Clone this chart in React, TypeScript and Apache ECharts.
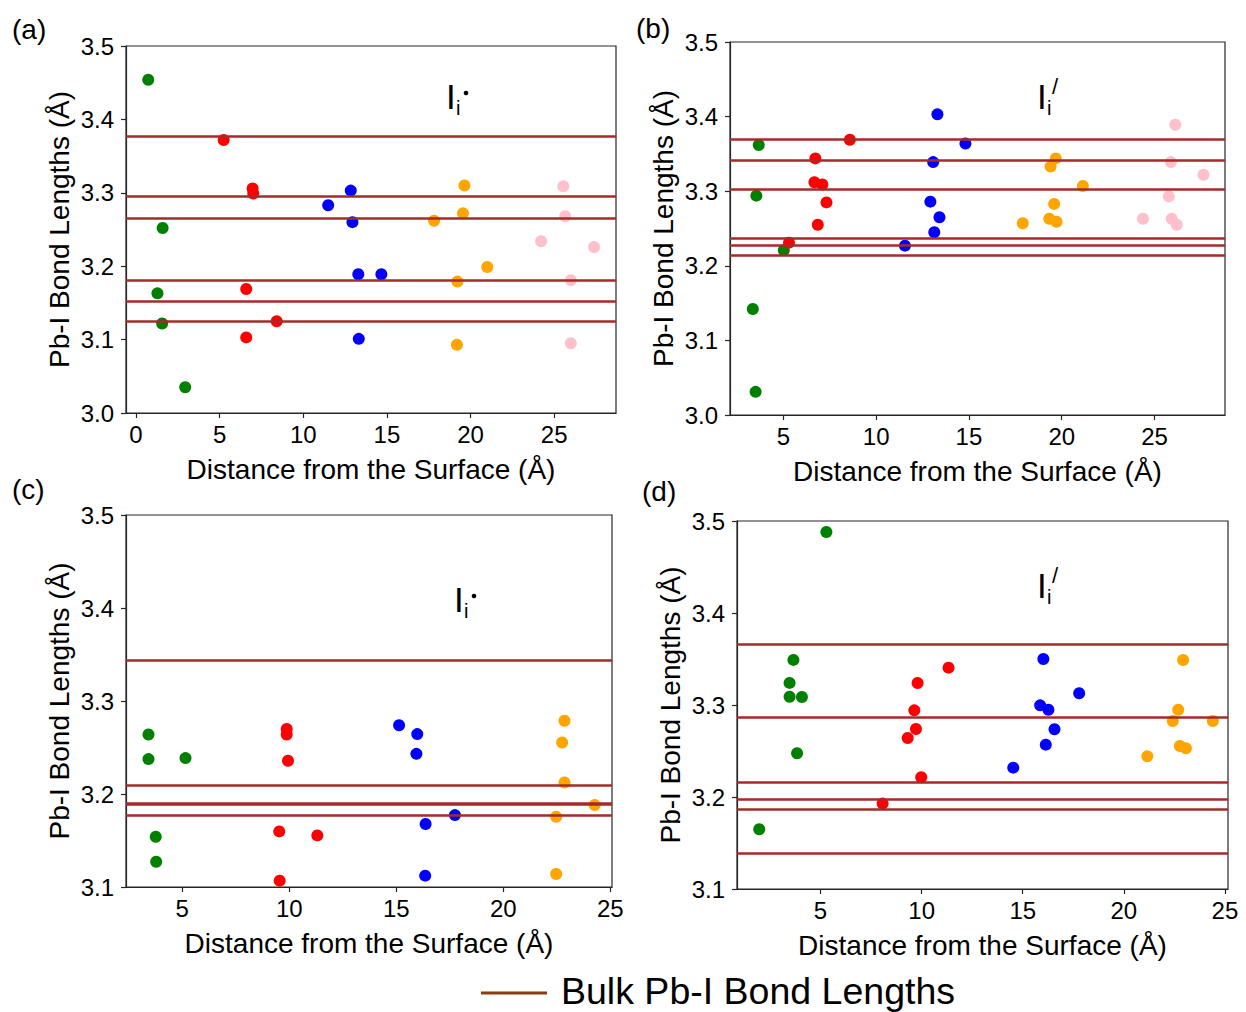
import React, { useEffect, useRef } from "react";
import * as echarts from "echarts";

const FONT = '"Liberation Sans", Arial, Helvetica, sans-serif';
const GREEN = "#008000";
const RED = "#ff0000";
const BLUE = "#0000ff";
const ORANGE = "#ffa500";
const PINK = "#ffc0cb";
const BULK_COLOR = "#a52a2a";
const LEGEND_COLOR = "#8b3a14";

// ---------- Panel (a) ----------
const aGreen = [[0.73, 3.454], [1.59, 3.252], [1.28, 3.163], [1.56, 3.122], [2.94, 3.035]];
const aRed = [[5.24, 3.372], [6.97, 3.306], [7.01, 3.299], [6.59, 3.169], [8.41, 3.125], [6.59, 3.103]];
const aBlue = [[12.84, 3.303], [11.49, 3.283], [12.94, 3.26], [13.29, 3.189], [14.67, 3.189], [13.32, 3.101]];
const aOrange = [[19.64, 3.31], [19.55, 3.272], [17.82, 3.262], [21.0, 3.199], [19.22, 3.179], [19.19, 3.093]];
const aPink = [[25.55, 3.309], [25.66, 3.268], [24.22, 3.234], [27.39, 3.226], [26.0, 3.181], [26.0, 3.095]];
const aBulk = [3.377, 3.295, 3.266, 3.181, 3.152, 3.125];

// ---------- Panel (b) ----------
const bGreen = [[3.67, 3.362], [3.54, 3.294], [5.02, 3.221], [3.35, 3.142], [3.5, 3.031]];
const bRed = [[8.58, 3.369], [6.72, 3.344], [6.67, 3.312], [7.1, 3.309], [7.32, 3.285], [6.85, 3.255], [5.3, 3.231]];
const bBlue = [[13.3, 3.403], [14.81, 3.364], [13.07, 3.339], [12.92, 3.286], [13.41, 3.265], [13.13, 3.245], [11.55, 3.227]];
const bOrange = [[19.68, 3.344], [19.4, 3.333], [21.14, 3.307], [19.59, 3.283], [19.33, 3.263], [19.72, 3.259], [17.9, 3.257]];
const bPink = [[26.12, 3.389], [25.88, 3.339], [27.64, 3.322], [25.77, 3.293], [24.38, 3.263], [25.93, 3.263], [26.2, 3.255]];
const bBulk = [3.369, 3.341, 3.303, 3.237, 3.227, 3.214];

// ---------- Panel (c) ----------
const cGreen = [[3.42, 3.264], [3.42, 3.2375], [5.15, 3.2386], [3.76, 3.1541], [3.78, 3.1272]];
const cRed = [[9.88, 3.27], [9.88, 3.264], [9.94, 3.2357], [9.53, 3.1598], [11.31, 3.1555], [9.55, 3.1068]];
const cBlue = [[15.13, 3.274], [15.98, 3.2644], [15.94, 3.2432], [17.74, 3.1773], [16.37, 3.1677], [16.35, 3.1122]];
const cOrange = [[22.86, 3.2787], [22.75, 3.2554], [22.86, 3.2124], [24.27, 3.1881], [22.47, 3.1756], [22.47, 3.114]];
const cBulk = [3.3435, 3.209, 3.1905, 3.1885, 3.1773];

// ---------- Panel (d) ----------
const dGreen = [[5.29, 3.488], [3.66, 3.349], [3.47, 3.324], [3.47, 3.309], [4.08, 3.3087], [3.84, 3.2475], [1.97, 3.1649]];
const dRed = [[11.33, 3.3406], [9.8, 3.3239], [9.64, 3.2942], [9.72, 3.2739], [9.31, 3.2641], [9.98, 3.2214], [8.07, 3.1928]];
const dBlue = [[16.02, 3.35], [17.79, 3.3127], [15.86, 3.2996], [16.27, 3.2949], [16.57, 3.2736], [16.14, 3.2569], [14.53, 3.2319]];
const dOrange = [[22.93, 3.3489], [22.69, 3.2949], [22.42, 3.2826], [24.4, 3.2826], [22.77, 3.2554], [23.07, 3.2529], [21.16, 3.2442]];
const dBulk = [3.3656, 3.2866, 3.2163, 3.1978, 3.1866, 3.1388];

// ---------- Axes ----------
const xTicksA = [0, 5, 10, 15, 20, 25];
const xTicksOther = [5, 10, 15, 20, 25];
const yTicksAB = [3.0, 3.1, 3.2, 3.3, 3.4, 3.5];
const yTicksCD = [3.1, 3.2, 3.3, 3.4, 3.5];
const xRanges = [[-0.6, 28.7], [2.12, 28.8], [2.37, 25.08], [0.87, 25.15]];
const yRanges = [[3.0, 3.5], [3.0, 3.5], [3.1, 3.5], [3.1, 3.5]];
const X_TITLE = "Distance from the Surface (Å)";
const Y_TITLE = "Pb-I Bond Lengths (Å)";
const LEGEND_TEXT = "Bulk Pb-I Bond Lengths";
const PANEL_TAGS = ["(a)", "(b)", "(c)", "(d)"];

const panels = [
  { groups: [aGreen, aRed, aBlue, aOrange, aPink], bulk: aBulk, xTicks: xTicksA, yTicks: yTicksAB },
  { groups: [bGreen, bRed, bBlue, bOrange, bPink], bulk: bBulk, xTicks: xTicksOther, yTicks: yTicksAB },
  { groups: [cGreen, cRed, cBlue, cOrange], bulk: cBulk, xTicks: xTicksOther, yTicks: yTicksCD },
  { groups: [dGreen, dRed, dBlue, dOrange], bulk: dBulk, xTicks: xTicksOther, yTicks: yTicksCD },
];
const groupColors = [GREEN, RED, BLUE, ORANGE, PINK];

const gridBoxes = [
  { left: 126, top: 46, width: 490, height: 367 },
  { left: 730, top: 42, width: 495, height: 373 },
  { left: 126, top: 515, width: 486, height: 372 },
  { left: 737, top: 521, width: 491, height: 368 },
];

const AXIS_COLOR = "#262626";

function buildOption() {
  const grid: any[] = [];
  const xAxis: any[] = [];
  const yAxis: any[] = [];
  const series: any[] = [];
  panels.forEach((p, i) => {
    grid.push({
      ...gridBoxes[i],
      show: true,
      borderColor: AXIS_COLOR,
      borderWidth: 1.2,
      backgroundColor: "transparent",
    });
    xAxis.push({
      type: "value",
      gridIndex: i,
      min: xRanges[i][0],
      max: xRanges[i][1],
      name: X_TITLE,
      nameLocation: "middle",
      nameGap: 42,
      nameTextStyle: { fontFamily: FONT, fontSize: 28, color: "#000" },
      axisLine: { show: true, onZero: false, lineStyle: { color: AXIS_COLOR, width: 1.2 } },
      axisTick: { show: true, inside: false, length: 5, customValues: p.xTicks, lineStyle: { color: AXIS_COLOR, width: 1.2 } },
      axisLabel: {
        customValues: p.xTicks,
        fontFamily: FONT,
        fontSize: 24,
        color: "#000",
        margin: 9,
        formatter: (v: number) => String(Math.round(v)),
      },
      splitLine: { show: false },
    });
    yAxis.push({
      type: "value",
      gridIndex: i,
      min: yRanges[i][0],
      max: yRanges[i][1],
      name: Y_TITLE,
      nameLocation: "middle",
      nameRotate: 90,
      nameGap: 53,
      nameTextStyle: { fontFamily: FONT, fontSize: 28, color: "#000" },
      axisLine: { show: true, onZero: false, lineStyle: { color: AXIS_COLOR, width: 1.2 } },
      axisTick: { show: true, inside: false, length: 5, customValues: p.yTicks, lineStyle: { color: AXIS_COLOR, width: 1.2 } },
      axisLabel: {
        customValues: p.yTicks,
        fontFamily: FONT,
        fontSize: 24,
        color: "#000",
        margin: 12,
        formatter: (v: number) => v.toFixed(1),
      },
      splitLine: { show: false },
    });
    p.groups.forEach((g, k) => {
      series.push({
        type: "scatter",
        xAxisIndex: i,
        yAxisIndex: i,
        data: g,
        symbol: "circle",
        symbolSize: 12,
        itemStyle: { color: groupColors[k], opacity: 1 },
        z: 2,
        silent: true,
      });
    });
    series.push({
      type: "line",
      xAxisIndex: i,
      yAxisIndex: i,
      data: [],
      z: 5,
      silent: true,
      markLine: {
        silent: true,
        precision: 5,
        symbol: ["none", "none"],
        label: { show: false },
        lineStyle: { color: BULK_COLOR, width: 2.5, type: "solid", opacity: 1 },
        data: p.bulk.map((v) => ({ yAxis: v })),
        z: 5,
      },
    });
  });

  const textEl = (text: string, x: number, y: number, size: number, extra: any = {}) => ({
    type: "text",
    x,
    y,
    style: {
      text,
      fontFamily: FONT,
      fontSize: size,
      fill: "#000",
      textVerticalAlign: "middle",
      verticalAlign: "middle",
      ...extra,
    },
    z: 10,
  });

  const graphic: any[] = [
    textEl(PANEL_TAGS[0], 12, 29, 28),
    textEl(PANEL_TAGS[1], 636, 28, 28),
    textEl(PANEL_TAGS[2], 12, 489, 28),
    textEl(PANEL_TAGS[3], 642, 491, 28),
    // (a) I_i with dot
    textEl("I", 446, 96, 35),
    textEl("i", 456, 108, 20),
    { type: "circle", shape: { cx: 466, cy: 93, r: 2.3 }, style: { fill: "#000" }, z: 10 },
    // (b) I_i with prime
    textEl("I", 1037, 96, 35),
    textEl("i", 1047, 108, 20),
    textEl("/", 1052, 86, 22),
    // (c)
    textEl("I", 454, 599, 35),
    textEl("i", 464, 611, 20),
    { type: "circle", shape: { cx: 474, cy: 596, r: 2.3 }, style: { fill: "#000" }, z: 10 },
    // (d)
    textEl("I", 1037, 585, 35),
    textEl("i", 1047, 597, 20),
    textEl("/", 1052, 575, 22),
    // legend
    { type: "line", shape: { x1: 481, y1: 993, x2: 547, y2: 993 }, style: { stroke: LEGEND_COLOR, lineWidth: 3 }, z: 10 },
    textEl(LEGEND_TEXT, 561, 991, 37.5),
  ];

  return {
    animation: false,
    backgroundColor: "#ffffff",
    grid,
    xAxis,
    yAxis,
    series,
    graphic,
  };
}

export default function App() {
  const ref = useRef<HTMLDivElement>(null);
  useEffect(() => {
    document.body.style.margin = "0";
    if (!ref.current) return;
    const chart = echarts.init(ref.current, undefined, { renderer: "svg" });
    chart.setOption(buildOption() as any);
    return () => {
      chart.dispose();
    };
  }, []);
  return (
    <div
      ref={ref}
      style={{ position: "absolute", left: 0, top: 0, width: 1246, height: 1012, background: "#fff" }}
    />
  );
}
